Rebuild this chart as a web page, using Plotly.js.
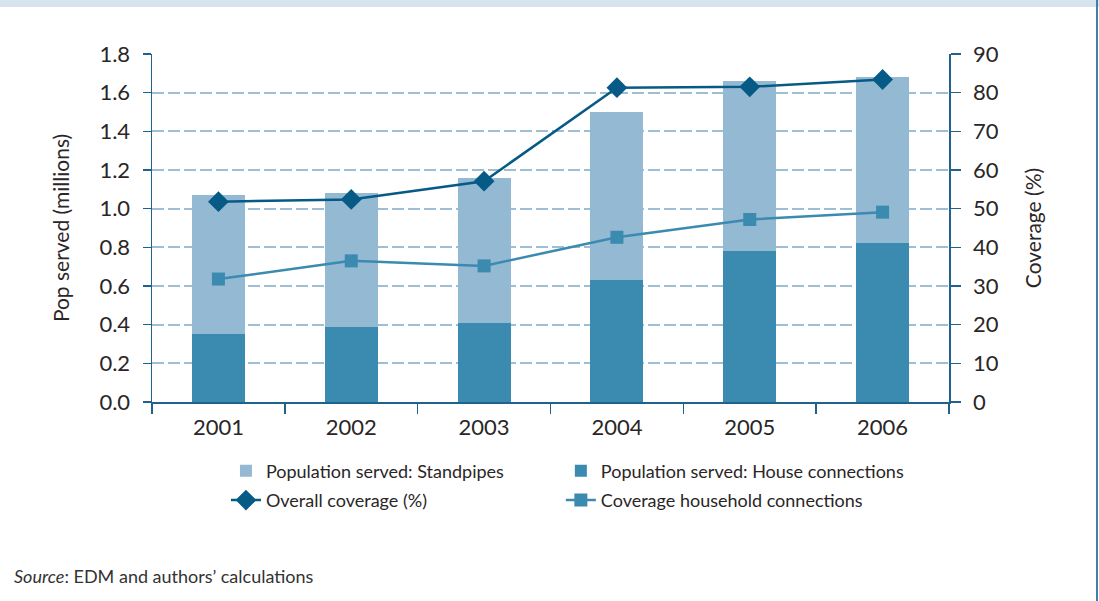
<!DOCTYPE html>
<html>
<head>
<meta charset="utf-8">
<script src="https://cdn.plot.ly/plotly-3.0.1.min.js"></script>
<style>html,body{margin:0;padding:0;background:#fff;}#chart{width:1099px;height:601px;}</style>
</head>
<body>
<div id="chart"></div>
<script>
const years = ['2001', '2002', '2003', '2004', '2005', '2006'];
const houseConnections = [0.35, 0.39, 0.41, 0.63, 0.78, 0.82];
const standpipes = [0.72, 0.69, 0.75, 0.87, 0.88, 0.86];
const overallCoverage = [51.8, 52.4, 57.1, 81.3, 81.5, 83.4];
const householdCoverage = [31.8, 36.5, 35.2, 42.6, 47.2, 49.1];
const leftTicks = [0, 0.2, 0.4, 0.6, 0.8, 1.0, 1.2, 1.4, 1.6, 1.8];
const leftTickText = ['0.0', '0.2', '0.4', '0.6', '0.8', '1.0', '1.2', '1.4', '1.6', '1.8'];

const FONT = 'Lato, "Open Sans", sans-serif';
const TXT = '#2a2627';
const AX = '#1f628c';

const traces = [
  {type: 'bar', x: years, y: houseConnections, name: 'Population served: House connections',
   marker: {color: '#3b8ab0'}, width: 0.4, legend: 'legend2', legendrank: 1, legendgroup: 'a', hoverinfo: 'y'},
  {type: 'bar', x: years, y: standpipes, name: 'Population served: Standpipes',
   marker: {color: '#93b9d3'}, width: 0.4, legend: 'legend', legendrank: 1, legendgroup: 'b', hoverinfo: 'y'},
  {type: 'scatter', mode: 'lines+markers', x: years, y: overallCoverage, yaxis: 'y2',
   name: 'Overall coverage (%)', line: {color: '#065a86', width: 2.5},
   marker: {symbol: 'diamond', size: 16, color: '#065a86'}, legend: 'legend', legendrank: 2, legendgroup: 'c'},
  {type: 'scatter', mode: 'lines+markers', x: years, y: householdCoverage, yaxis: 'y2',
   name: 'Coverage household connections', line: {color: '#3b8ab0', width: 2.5},
   marker: {symbol: 'square', size: 13, color: '#3b8ab0'}, legend: 'legend2', legendrank: 2, legendgroup: 'd'}
];

const legendBase = {
  orientation: 'v', y: -0.145, yanchor: 'top', xanchor: 'left',
  font: {size: 18, color: TXT}, bgcolor: 'rgba(0,0,0,0)',
  traceorder: 'grouped', tracegroupgap: 3
};

const layout = {
  width: 1099, height: 601,
  margin: {l: 152, r: 150, t: 54, b: 199},
  paper_bgcolor: '#fff', plot_bgcolor: '#fff',
  barmode: 'stack',
  font: {family: FONT, color: TXT},
  showlegend: true,
  xaxis: {
    type: 'category', tickson: 'boundaries', ticks: 'outside', ticklen: 10, tickcolor: AX, tickwidth: 1.5,
    showline: true, linecolor: AX, linewidth: 1.5, showgrid: false,
    tickfont: {size: 22, color: TXT}, ticklabelstandoff: 5
  },
  yaxis: {
    range: [0, 1.8], tickvals: leftTicks, ticktext: leftTickText,
    ticks: 'outside', ticklen: 8, tickcolor: AX, tickwidth: 1.5,
    showline: true, linecolor: AX, linewidth: 1.5,
    showgrid: true, gridcolor: '#9dbfd6', gridwidth: 2, griddash: '12px,4px',
    zeroline: false, tickfont: {size: 22, color: TXT}, ticklabelstandoff: 8,
    title: {text: 'Pop served (millions)', font: {size: 21, color: TXT}, standoff: 24}
  },
  yaxis2: {
    overlaying: 'y', side: 'right', range: [0, 90], dtick: 10,
    ticks: 'outside', ticklen: 10, tickcolor: AX, tickwidth: 1.5,
    showline: true, linecolor: AX, linewidth: 1.5, showgrid: false, zeroline: false,
    tickfont: {size: 22, color: TXT}, ticklabelstandoff: 8,
    title: {text: 'Coverage (%)', font: {size: 21, color: TXT}, standoff: 28}
  },
  legend: Object.assign({}, legendBase, {x: 0.0928}),
  legend2: Object.assign({}, legendBase, {x: 0.513}),
  shapes: [
    {type: 'rect', xref: 'paper', yref: 'paper', x0: -0.2, x1: 1.19, y0: 1.135, y1: 1.2,
     fillcolor: '#d6e4ee', line: {width: 0}, layer: 'above'},
    {type: 'line', xref: 'paper', yref: 'paper', x0: 1.1857, x1: 1.1857, y0: -0.6, y1: 1.2,
     line: {color: '#3f80ab', width: 2}}
  ],
  annotations: [
    {xref: 'paper', yref: 'paper', x: -0.1757, y: -0.5, xanchor: 'left', yanchor: 'middle',
     showarrow: false, text: '<i>Source</i>: EDM and authors’ calculations',
     font: {size: 18, color: '#333'}}
  ]
};

Plotly.newPlot('chart', traces, layout, {displayModeBar: false, staticPlot: true});
</script>
</body>
</html>
